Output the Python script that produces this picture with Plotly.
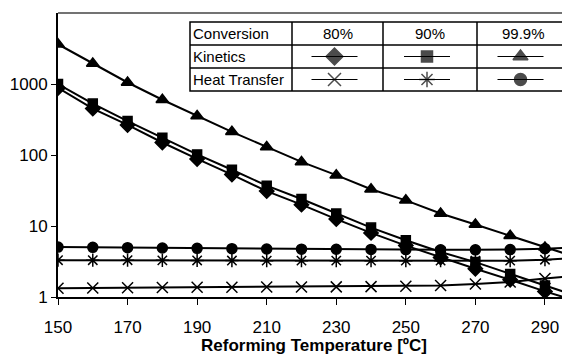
import plotly.graph_objects as go

temps = [150, 160, 170, 180, 190, 200, 210, 220, 230, 240, 250, 260, 270, 280, 290, 300]
kin_80 = [880, 450, 265, 150, 88, 53, 31, 20, 12.5, 8, 5.3, 3.6, 2.5, 1.75, 1.2, 0.85]
kin_90 = [1000, 530, 300, 175, 102, 62, 37, 24, 15, 9.5, 6.3, 4.3, 3.1, 2.1, 1.45, 1.0]
kin_999 = [3630, 1950, 1050, 600, 355, 212, 130, 80, 52, 33, 23, 15, 10.5, 7.3, 5.0, 3.5]
ht_80 = [1.33, 1.34, 1.35, 1.36, 1.37, 1.37, 1.38, 1.38, 1.39, 1.40, 1.42, 1.45, 1.52, 1.63, 1.82, 2.0]
ht_90 = [3.3, 3.3, 3.3, 3.28, 3.27, 3.26, 3.25, 3.25, 3.25, 3.25, 3.25, 3.25, 3.25, 3.25, 3.35, 3.6]
ht_999 = [5.05, 5.0, 4.95, 4.9, 4.85, 4.8, 4.75, 4.72, 4.7, 4.68, 4.65, 4.62, 4.62, 4.65, 4.8, 5.0]

x_ticks = [150, 170, 190, 210, 230, 250, 270, 290]
y_ticks = [1, 10, 100, 1000]

conv_labels = ["80%", "90%", "99.9%"]
row_labels = ["Conversion", "Kinetics", "Heat Transfer"]

series = [
    (kin_80, "diamond", 11, "Kinetics 80%"),
    (kin_90, "square", 9, "Kinetics 90%"),
    (kin_999, "triangle-up", 11, "Kinetics 99.9%"),
    (ht_80, "x-thin-open", 11, "Heat Transfer 80%"),
    (ht_90, "asterisk-open", 11, "Heat Transfer 90%"),
    (ht_999, "circle", 10, "Heat Transfer 99.9%"),
]

fig = go.Figure()
for vals, sym, size, name in series:
    fig.add_trace(go.Scatter(
        x=temps, y=vals, mode="lines+markers", name=name,
        line=dict(color="black", width=2),
        marker=dict(symbol=sym, size=size, color="black",
                    line=dict(color="black", width=1.5)),
        showlegend=False, cliponaxis=True,
    ))

# page body has an 8px margin; work in window pixel coordinates
OFF = 8
WIN_W, WIN_H = 570, 355
W, H = WIN_W - OFF, WIN_H - OFF
PL, PR, PT, PB = 58, 570, 13, 297          # plot area in window pixels
L, R, T, B = PL - OFF, W - (PR - OFF), PT - OFF, H - (PB - OFF)
PW, PH = PR - PL, PB - PT

tbl_x = [190, 292, 383, 477, 570]
tbl_y = [22, 45, 68, 91]
font_leg = dict(family="Liberation Sans Narrow, Arial Narrow, Liberation Sans, Arial", size=15, color="black")

def px(xp):
    return (xp - PL) / PW
def py(yp):
    return (PB - yp) / PH

shapes = []
shapes.append(dict(type="rect", xref="paper", yref="paper",
                   x0=px(tbl_x[0]), x1=px(tbl_x[-1] - 1), y0=py(tbl_y[-1]), y1=py(tbl_y[0]),
                   line=dict(color="black", width=1.5), fillcolor="white", layer="below"))
for xv in tbl_x[1:-1]:
    shapes.append(dict(type="line", xref="paper", yref="paper",
                       x0=px(xv), x1=px(xv), y0=py(tbl_y[-1]), y1=py(tbl_y[0]),
                       line=dict(color="black", width=1.5)))
for yv in tbl_y[1:-1]:
    shapes.append(dict(type="line", xref="paper", yref="paper",
                       x0=px(tbl_x[0]), x1=px(tbl_x[-1]), y0=py(yv), y1=py(yv),
                       line=dict(color="black", width=1.5)))
# top border
shapes.append(dict(type="line", xref="paper", yref="paper", x0=0, x1=1, y0=1, y1=1,
                   line=dict(color="#444", width=1.5)))

annotations = []
for i, lab in enumerate(row_labels):
    annotations.append(dict(xref="paper", yref="paper", x=px(tbl_x[0] + 1),
                            y=py((tbl_y[i] + tbl_y[i + 1]) / 2), text=lab, showarrow=False,
                            xanchor="left", yanchor="middle", font=font_leg))
for j, lab in enumerate(conv_labels):
    annotations.append(dict(xref="paper", yref="paper", x=px((tbl_x[j + 1] + tbl_x[j + 2]) / 2),
                            y=py((tbl_y[0] + tbl_y[1]) / 2), text=lab, showarrow=False,
                            xanchor="center", yanchor="middle", font=font_leg))

# legend samples on overlay axes measured in window pixels
for k, (vals, sym, size, name) in enumerate(series):
    row = 1 + k // 3
    col = k % 3
    cx = (tbl_x[col + 1] + tbl_x[col + 2]) / 2 - 3
    cy = (tbl_y[row] + tbl_y[row + 1]) / 2
    fig.add_trace(go.Scatter(
        x=[cx - 23, cx, cx + 23], y=[cy, cy, cy], xaxis="x2", yaxis="y2",
        mode="lines+markers", line=dict(color="black", width=1.2),
        marker=dict(symbol=sym, size=[0, size + 2, 0], color="black",
                    line=dict(color="black", width=1.5)),
        showlegend=False, hoverinfo="skip",
    ))

tick_font = dict(family="Liberation Sans, Arial", size=17, color="black")
fig.update_layout(
    width=W, height=H,
    margin=dict(l=L, r=R, t=T, b=B, autoexpand=False),
    paper_bgcolor="white", plot_bgcolor="white",
    shapes=shapes, annotations=annotations,
    xaxis=dict(range=[150, 297.2], tickvals=x_ticks, ticks="outside", ticklen=6,
               tickcolor="black", showline=True, linecolor="black", linewidth=2,
               mirror=False, showgrid=False, zeroline=False, tickfont=tick_font,
               automargin=False, ticklabelstandoff=8,
               title=dict(text="<b>Reforming Temperature [ºC]</b>",
                          font=dict(family="Liberation Sans, Arial", size=17, color="black"),
                          standoff=6)),
    yaxis=dict(type="log", range=[0, 4], tickvals=y_ticks, ticktext=[str(v) for v in y_ticks],
               ticks="outside", ticklen=5, tickcolor="black", showline=True,
               linecolor="black", linewidth=2, showgrid=False, zeroline=False,
               tickfont=tick_font, automargin=False),
    xaxis2=dict(range=[PL, PR], overlaying="x", anchor="y2", visible=False, fixedrange=True),
    yaxis2=dict(range=[PB, PT], overlaying="y", anchor="x2", visible=False, fixedrange=True),
)

fig.write_html("out.html")
